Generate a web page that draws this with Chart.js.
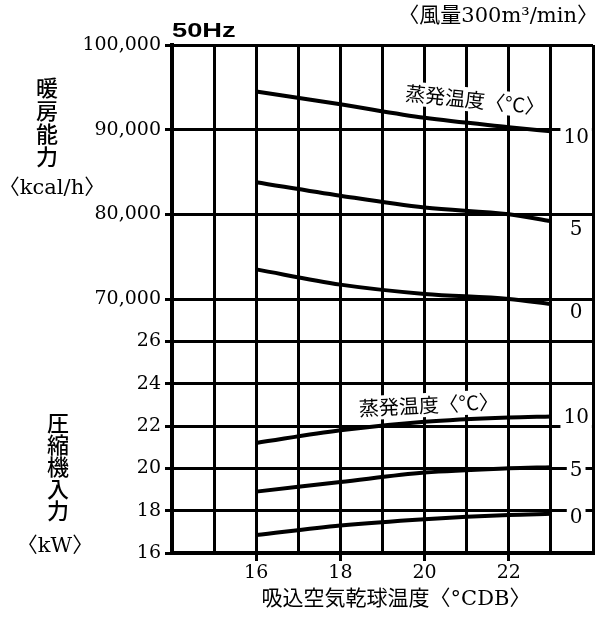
<!DOCTYPE html>
<html>
<head>
<meta charset="utf-8">
<script src="https://cdn.jsdelivr.net/npm/chart.js@4"></script>
<style>
html, body { margin: 0; padding: 0; background: #fff; }
#wrap { position: relative; width: 605px; height: 619px; }
</style>
</head>
<body>
<div id="wrap"><canvas id="chart" width="605" height="619"></canvas></div>
<script>
// intake air dry bulb temperature (°CDB)
var temps = [16, 18, 20, 22, 23];
var evapLabels = ['10', '5', '0'];

// heating capacity (kcal/h), evaporating temp 10 / 5 / 0 °C
var heat10 = [94500, 93000, 91400, 90300, 89800];
var heat5 = [83800, 82200, 80800, 80000, 79200];
var heat0 = [73500, 71700, 70600, 70000, 69400];

// compressor input (kW)
var kw10 = [21.2, 21.8, 22.2, 22.4, 22.45];
var kw5 = [18.9, 19.35, 19.8, 20.0, 20.05];
var kw0 = [16.85, 17.3, 17.6, 17.8, 17.85];

var xTickLabels = [16, 18, 20, 22];
var kwTicks = [16, 18, 20, 22, 24, 26];
var kcalTicks = [70000, 80000, 90000, 100000];

// both panels share one y scale: 1 unit = 1 kW = 2500 kcal/h, 70,000 sits at 28
function kcalToAxis(k) { return 28 + (k - 70000) / 2500; }
function axisToKcal(v) { return 70000 + (v - 28) * 2500; }

var yTickValues = kwTicks.concat(kcalTicks.map(kcalToAxis));

function series(xs, ys, conv) {
    return xs.map(function(t, i) {
        return { x: t, y: conv ? conv(ys[i]) : ys[i] };
    });
}

var SERIF = '"DejaVu Serif", "Noto Sans CJK JP", serif';
var CJK = '"Noto Sans CJK JP", "DejaVu Serif", sans-serif';

function lineSet(data) {
    return {
        data: data,
        borderColor: '#000',
        borderWidth: 4,
        pointRadius: 0,
        fill: false,
        cubicInterpolationMode: 'monotone'
    };
}

// text labels drawn onto the canvas
var labelsPlugin = {
    id: 'labels',
    beforeDatasetsDraw: function(chart) {
        var ctx = chart.ctx;
        var xs = chart.scales.x, ys = chart.scales.y;

        function boxText(text, x, y, font, rot) {
            ctx.save();
            ctx.translate(x, y);
            ctx.rotate((rot || 0) * Math.PI / 180);
            ctx.font = font;
            var w = ctx.measureText(text).width;
            ctx.fillStyle = '#fff';
            ctx.fillRect(-w / 2 - 3, -12, w + 6, 24);
            ctx.fillStyle = '#000';
            ctx.textAlign = 'center';
            ctx.textBaseline = 'middle';
            ctx.fillText(text, 0, 0);
            ctx.restore();
        }

        // evaporating temperature captions
        boxText('蒸発温度〈°C〉', xs.getPixelForValue(21.2), ys.getPixelForValue(37.4), '20px ' + CJK, 6);
        boxText('蒸発温度〈°C〉', xs.getPixelForValue(20.1), ys.getPixelForValue(23.0), '20px ' + CJK, -3);

        // curve end labels
        var ends = [heat10, heat5, heat0];
        var endsKw = [kw10, kw5, kw0];
        var last = temps.length - 1;
        var lx = xs.getPixelForValue(23.6);
        for (var i = 0; i < 3; i++) {
            boxText(evapLabels[i], lx, ys.getPixelForValue(kcalToAxis(ends[i][last])) + (i ? 9 : 6), '20px ' + SERIF);
            boxText(evapLabels[i], lx, ys.getPixelForValue(endsKw[i][last]) + (i ? 4 : 1), '20px ' + SERIF);
        }
    },
    afterDraw: function(chart) {
        var ctx = chart.ctx;
        ctx.save();
        ctx.fillStyle = '#000';

        // 50Hz
        ctx.save();
        ctx.translate(172, 37);
        ctx.scale(1.3, 1);
        ctx.font = 'bold 21px "Liberation Sans", sans-serif';
        ctx.textAlign = 'left';
        ctx.textBaseline = 'alphabetic';
        ctx.fillText('50Hz', 0, 0);
        ctx.restore();

        // air volume
        ctx.font = '21px ' + SERIF;
        ctx.textAlign = 'right';
        ctx.textBaseline = 'middle';
        ctx.fillText('〈風量300m³/min〉', 598, 17);

        // vertical axis titles
        ctx.textAlign = 'center';
        ctx.font = '500 22px ' + CJK;
        var t1 = '暖房能力';
        for (var i = 0; i < t1.length; i++) ctx.fillText(t1[i], 47, 88 + i * 23);
        ctx.font = '21px ' + SERIF;
        ctx.fillText('〈kcal/h〉', 52, 189);

        ctx.font = '500 22px ' + CJK;
        var t2 = '圧縮機入力';
        for (var j = 0; j < t2.length; j++) ctx.fillText(t2[j], 58, 423 + j * 22);
        ctx.font = '21px ' + SERIF;
        ctx.fillText('〈kW〉', 55, 547);

        // x title
        ctx.font = '21px ' + SERIF;
        ctx.fillText('吸込空気乾球温度〈°CDB〉', 396, 600);
        ctx.restore();
    }
};

var ctx = document.getElementById('chart').getContext('2d');

new Chart(ctx, {
    type: 'line',
    data: {
        datasets: [
            lineSet(series(temps, heat10, kcalToAxis)),
            lineSet(series(temps, heat5, kcalToAxis)),
            lineSet(series(temps, heat0, kcalToAxis)),
            lineSet(series(temps, kw10)),
            lineSet(series(temps, kw5)),
            lineSet(series(temps, kw0))
        ]
    },
    options: {
        responsive: false,
        animation: false,
        layout: { padding: { left: 0, top: 45, right: 12, bottom: 0 } },
        plugins: {
            legend: { display: false },
            tooltip: { enabled: false }
        },
        scales: {
            x: {
                type: 'linear',
                min: 14,
                max: 24,
                afterFit: function(scale) { scale.height = 66; },
                border: { display: true, color: '#000', width: 4 },
                grid: {
                    color: '#000',
                    lineWidth: 3,
                    tickLength: 8,
                    tickWidth: 3,
                    tickColor: function(c) {
                        return c.tick && xTickLabels.indexOf(c.tick.value) >= 0 ? '#000' : 'rgba(0,0,0,0)';
                    }
                },
                ticks: {
                    stepSize: 1,
                    autoSkip: false,
                    maxRotation: 0,
                    padding: 1,
                    color: '#000',
                    font: { family: SERIF, size: 19 },
                    callback: function(v) {
                        return xTickLabels.indexOf(v) >= 0 ? String(v) : '';
                    }
                }
            },
            y: {
                type: 'linear',
                min: 16,
                max: 40,
                afterFit: function(scale) { scale.width = 172; },
                afterBuildTicks: function(scale) {
                    scale.ticks = yTickValues.map(function(v) { return { value: v }; });
                },
                border: { display: true, color: '#000', width: 4 },
                grid: {
                    color: '#000',
                    lineWidth: 3,
                    tickLength: 7,
                    tickWidth: 3,
                    tickColor: '#000'
                },
                ticks: {
                    padding: 4,
                    color: '#000',
                    font: { family: SERIF, size: 19 },
                    callback: function(v) {
                        if (v <= 26) return String(v);
                        return axisToKcal(v).toLocaleString('en-US');
                    }
                }
            }
        }
    },
    plugins: [labelsPlugin]
});
</script>
</body>
</html>
